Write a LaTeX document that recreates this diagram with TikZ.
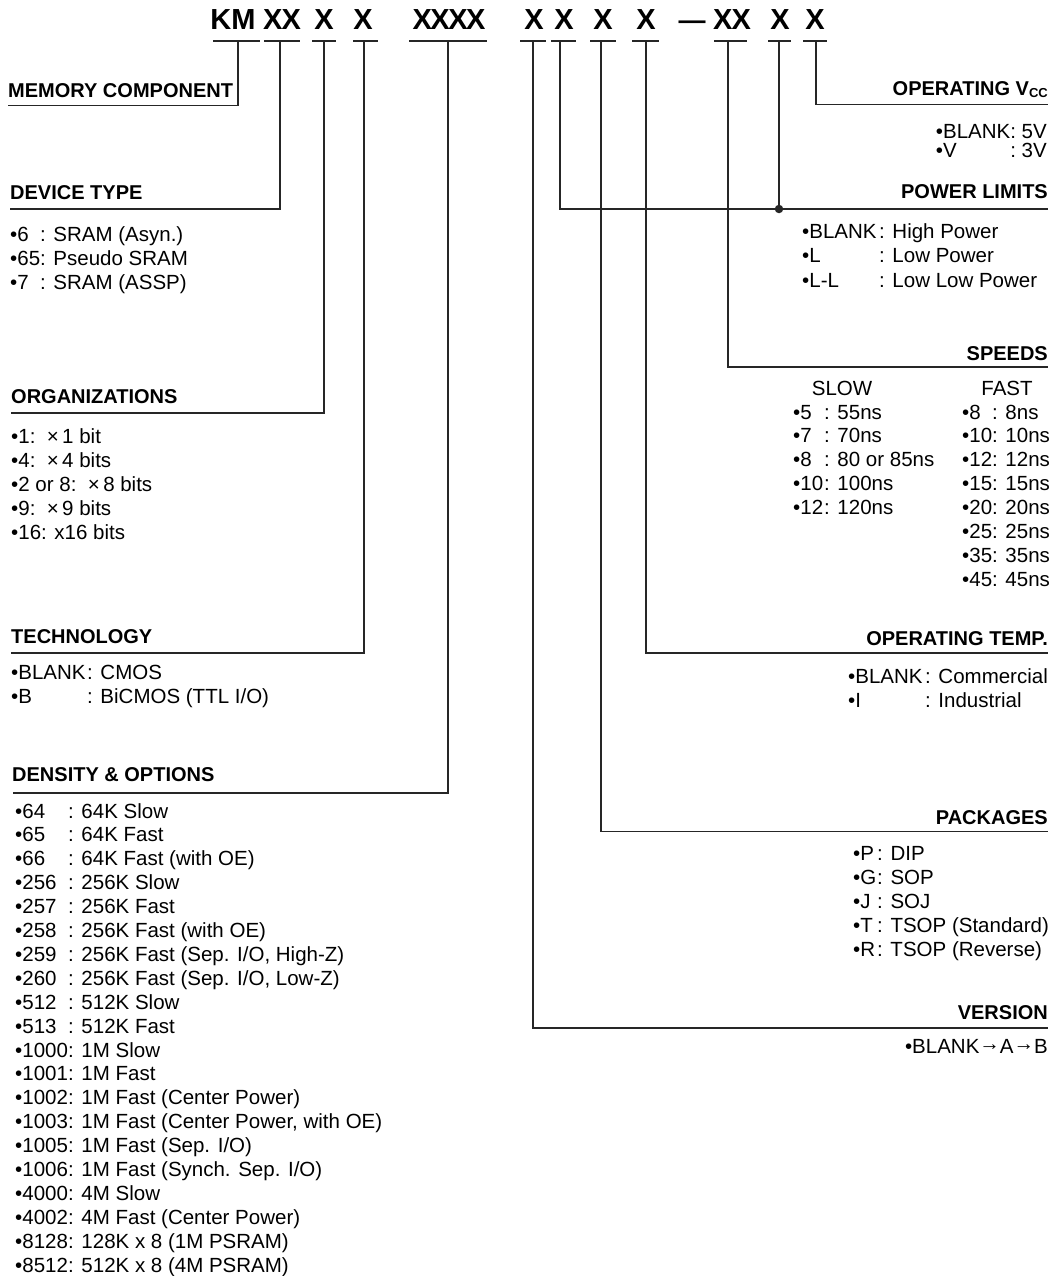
\documentclass[tikz,border=0pt]{standalone}
\usepackage{fontspec}
\setmainfont{Liberation Sans}
\newcommand\cl[2]{\makebox[#1][l]{•#2}}
\tikzset{
  conn/.style={line width=1.1pt, draw=black!85},
  uline/.style={line width=2pt, draw=black!85},
  ttl/.style={font=\fontsize{29}{29}\selectfont\bfseries, inner sep=0, anchor=base},
  dashtxt/.style={font=\fontsize{27}{27}\selectfont\bfseries, inner sep=0, anchor=base},
  hd/.style={font=\fontsize{20}{20}\selectfont\bfseries, inner sep=0},
  it/.style={font=\fontsize{20.5}{22}\selectfont, inner sep=0},
}
\begin{document}
\begin{tikzpicture}[x=1pt,y=-1pt]
\useasboundingbox (0,0) rectangle (1056,1276);

% ---- title code ----
\node[ttl] (t1) at (233,29.5) {KM};
\node[ttl] (t2) at (282,29.5) {X\kern-1pt X};
\node[ttl] (t3) at (324,29.5) {X};
\node[ttl] (t4) at (363,29.5) {X};
\node[ttl] (t5) at (449,29.5) {X\kern-1.5pt X\kern-1.5pt X\kern-1.5pt X};
\node[ttl] (t6) at (534,29.5) {X};
\node[ttl] (t7) at (564,29.5) {X};
\node[ttl] (t8) at (603,29.5) {X};
\node[ttl] (t9) at (646,29.5) {X};
\node[dashtxt] (tdash) at (692,29.5) {—};
\node[ttl] (t10) at (732,29.5) {X\kern-1pt X};
\node[ttl] (t11) at (780,29.5) {X};
\node[ttl] (t12) at (815,29.5) {X};

% underlines
\draw[uline] (213,41.5) -- (260,41.5);
\draw[uline] (264,41.5) -- (300,41.5);
\draw[uline] (312,41.5) -- (336,41.5);
\draw[uline] (353,41.5) -- (378,41.5);
\draw[uline] (409,41.5) -- (487,41.5);
\draw[uline] (520,41.5) -- (546,41.5);
\draw[uline] (551,41.5) -- (576,41.5);
\draw[uline] (590,41.5) -- (616,41.5);
\draw[uline] (632,41.5) -- (659,41.5);
\draw[uline] (714,41.5) -- (747,41.5);
\draw[uline] (768,41.5) -- (791,41.5);
\draw[uline] (803,41.5) -- (827,41.5);

% tick points
\coordinate (k1) at (238,41.5);
\coordinate (k2) at (280,41.5);
\coordinate (k3) at (324,41.5);
\coordinate (k4) at (364,41.5);
\coordinate (k5) at (448,41.5);
\coordinate (k6) at (533,41.5);
\coordinate (k7) at (560,41.5);
\coordinate (k8) at (601,41.5);
\coordinate (k9) at (646,41.5);
\coordinate (k10) at (728,41.5);
\coordinate (k11) at (779,41.5);
\coordinate (k12) at (816,41.5);

% line ends
\coordinate (e1) at (8,105.5);
\coordinate (e2) at (10,209);
\coordinate (e3) at (11,413);
\coordinate (e4) at (11,653);
\coordinate (e5) at (13,793);
\coordinate (e6) at (1048,1028);
\coordinate (e7) at (1048,209);
\coordinate (e8) at (1048,831.5);
\coordinate (e9) at (1048,653);
\coordinate (e10) at (1048,367);
\coordinate (e12) at (1048,104.5);
\node[circle, fill=black!85, inner sep=0, minimum size=8.5pt] (dot) at (779,209) {};

\draw[conn] (k1) |- (e1);
\draw[conn] (k2) |- (e2);
\draw[conn] (k3) |- (e3);
\draw[conn] (k4) |- (e4);
\draw[conn] (k5) |- (e5);
\draw[conn] (k6) |- (e6);
\draw[conn] (k7) |- (e7);
\draw[conn] (k8) |- (e8);
\draw[conn] (k9) |- (e9);
\draw[conn] (k10) |- (e10);
\draw[conn] (k11) -- (dot.center);
\draw[conn] (k12) |- (e12);

% ---- headings ----
\node[hd, anchor=base west] (h1) at (8,98) {MEMORY COMPONENT};
\node[hd, anchor=base west] (h2) at (10,200) {DEVICE TYPE};
\node[hd, anchor=base west] (h3) at (11,403) {ORGANIZATIONS};
\node[hd, anchor=base west] (h4) at (11,643) {TECHNOLOGY};
\node[hd, anchor=base west] (h5) at (12,781) {DENSITY \& OPTIONS};
\node[hd, anchor=base east] (h6) at (1048,1019) {VERSION};
\node[hd, anchor=base east] (h7) at (1048,199) {POWER LIMITS};
\node[hd, anchor=base east] (h8) at (1048,824) {PACKAGES};
\node[hd, anchor=base east] (h9) at (1048,645) {OPERATING TEMP.};
\node[hd, anchor=base east] (h10) at (1048,360) {SPEEDS};
\node[hd, anchor=base east] (h12) at (1048,96) {OPERATING V\raisebox{-1.5pt}{\fontsize{13}{13}\selectfont CC}};

% ---- device type ----
\node[it, anchor=base west] (d1) at (10,241) {\cl{30pt}{6}: SRAM (Asyn.)};
\node[it, anchor=base west] (d2) at (10,265) {\cl{30pt}{65}: Pseudo SRAM};
\node[it, anchor=base west] (d3) at (10,289) {\cl{30pt}{7}: SRAM (ASSP)};

% ---- organizations ----
\node[it, anchor=base west] (o1) at (11,443) {•1:\ \ ×\,1 bit};
\node[it, anchor=base west] (o2) at (11,467) {•4:\ \ ×\,4 bits};
\node[it, anchor=base west] (o3) at (11,491) {•2 or 8:\ \ ×\,8 bits};
\node[it, anchor=base west] (o4) at (11,515) {•9:\ \ ×\,9 bits};
\node[it, anchor=base west] (o5) at (11,539) {•16: x16 bits};

% ---- technology ----
\node[it, anchor=base west] (te1) at (11,679) {\cl{76pt}{BLANK}: CMOS};
\node[it, anchor=base west] (te2) at (11,703) {\cl{76pt}{B}: BiCMOS (TTL I/O)};

% ---- density ----
\foreach \a/\b [count=\i] in {
  {64}/{64K Slow}, {65}/{64K Fast}, {66}/{64K Fast (with OE)},
  {256}/{256K Slow}, {257}/{256K Fast}, {258}/{256K Fast (with OE)},
  {259}/{256K Fast (Sep. I/O, High-Z)}, {260}/{256K Fast (Sep. I/O, Low-Z)},
  {512}/{512K Slow}, {513}/{512K Fast}, {1000}/{1M Slow}, {1001}/{1M Fast},
  {1002}/{1M Fast (Center Power)}, {1003}/{1M Fast (Center Power, with OE)},
  {1005}/{1M Fast (Sep. I/O)}, {1006}/{1M Fast (Synch. Sep. I/O)},
  {4000}/{4M Slow}, {4002}/{4M Fast (Center Power)},
  {8128}/{128K x 8 (1M PSRAM)}, {8512}/{512K x 8 (4M PSRAM)}}
  \node[it, anchor=base west] (dn\i) at (15,{818+(\i-1)*23.9}) {\cl{53pt}{\a}: \b};

% ---- operating vcc ----
\node[it, anchor=base east] (vc1) at (1047,139) {•BLANK: 5V};
\node[it, anchor=base east] (vc2) at (1047,158) {\setbox0=\hbox{•BLANK: 5V}\makebox[\wd0][l]{•V\hfill: 3V}};

% ---- power limits ----
\node[it, anchor=base west] (p1) at (802,238) {\cl{77pt}{BLANK}: High Power};
\node[it, anchor=base west] (p2) at (802,262.5) {\cl{77pt}{L}: Low Power};
\node[it, anchor=base west] (p3) at (802,287) {\cl{77pt}{L-L}: Low Low Power};

% ---- speeds ----
\node[it, anchor=base] (slow) at (842,395) {SLOW};
\node[it, anchor=base] (fast) at (1007,395) {FAST};
\foreach \a/\b [count=\i] in {{5}/{55ns}, {7}/{70ns}, {8}/{80 or 85ns}, {10}/{100ns}, {12}/{120ns}}
  \node[it, anchor=base west] (sl\i) at (793,{419+(\i-1)*23.9}) {\cl{31pt}{\a}: \b};
\foreach \a/\b [count=\i] in {{8}/{8ns}, {10}/{10ns}, {12}/{12ns}, {15}/{15ns}, {20}/{20ns}, {25}/{25ns}, {35}/{35ns}, {45}/{45ns}}
  \node[it, anchor=base west] (fa\i) at (962,{419+(\i-1)*23.9}) {\cl{30pt}{\a}: \b};

% ---- operating temp ----
\node[it, anchor=base west] (op1) at (848,683) {\cl{77pt}{BLANK}: Commercial};
\node[it, anchor=base west] (op2) at (848,707) {\cl{77pt}{I}: Industrial};

% ---- packages ----
\node[it, anchor=base west] (pk1) at (853,860) {\cl{24pt}{P}: DIP};
\node[it, anchor=base west] (pk2) at (853,884) {\cl{24pt}{G}: SOP};
\node[it, anchor=base west] (pk3) at (853,908) {\cl{24pt}{J}: SOJ};
\node[it, anchor=base west] (pk4) at (853,932) {\cl{24pt}{T}: TSOP (Standard)};
\node[it, anchor=base west] (pk5) at (853,956) {\cl{24pt}{R}: TSOP (Reverse)};

% ---- version ----
\node[it, anchor=base east] (ver1) at (1048,1053) {•BLANK\raisebox{3pt}{→}A\raisebox{3pt}{→}B};
\end{tikzpicture}
\end{document}
